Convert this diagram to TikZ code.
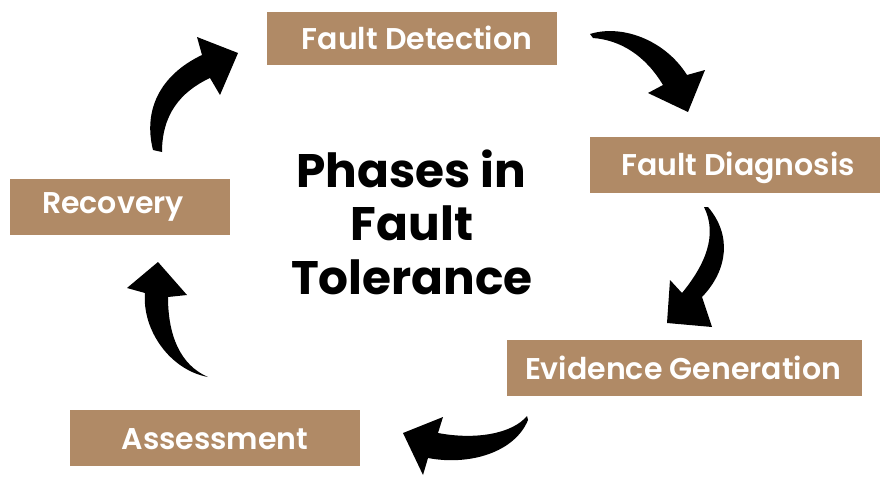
\documentclass[tikz,border=0pt]{standalone}
\usepackage{fontspec}
\setmainfont{Poppins}
\newfontfamily\popsb{Poppins}[UprightFont={* SemiBold},BoldFont={* Bold}]
\definecolor{boxtan}{HTML}{B08A66}
\begin{document}
\begin{tikzpicture}[x=1pt,y=-1pt,
  phasebox/.style={fill=boxtan,draw=none},
  phasetext/.style={text=white,font=\popsb\fontsize{30}{34}\selectfont,inner sep=0pt,anchor=base},
  titletext/.style={text=black,font=\popsb\bfseries\fontsize{47}{54}\selectfont,inner sep=0pt,anchor=base},
  bigarrow/.style={fill=black,draw=none}]
\useasboundingbox (0,0) rectangle (892,482);
\fill[white] (0,0) rectangle (892,482);
% boxes
\fill[phasebox] (267,12) rectangle (557,65);
\fill[phasebox] (590,137) rectangle (880,193);
\fill[phasebox] (507,340) rectangle (862,396);
\fill[phasebox] (70,410) rectangle (360,466);
\fill[phasebox] (10,179) rectangle (230,235);
% labels
\node[phasetext] (fd) at (417,49) {Fault Detection};
\node[phasetext] (fg) at (738,175) {Fault Diagnosis};
\node[phasetext] (eg) at (683,379) {Evidence Generation};
\node[phasetext] (as) at (215,449) {Assessment};
\node[phasetext] (rc) at (113,213) {Recovery};
% title
\node[titletext] (t1) at (411,187) {Phases in};
\node[titletext] (t2) at (412,240) {Fault};
\node[titletext] (t3) at (412,294) {Tolerance};
% arrows
\fill[bigarrow] (590,34) .. controls (622,24) and (665,40) .. (687,75) -- (705,70) -- (688,112) -- (648,93) -- (663,85) .. controls (645,55) and (620,40) .. (593,38) -- cycle;
\fill[bigarrow] (708,207) .. controls (732,235) and (728,270) .. (702,297) -- (712,327) -- (667,323) -- (670,280) -- (682,293) .. controls (705,265) and (718,235) .. (704,207) -- cycle;
\fill[bigarrow] (527,416) .. controls (512,434) and (475,440) .. (438,433) -- (443,417) -- (403,433) -- (423,475) -- (428,458) .. controls (470,466) and (515,452) .. (528,420) -- cycle;
\fill[bigarrow] (158,262) -- (187,295) -- (168,297) .. controls (168,335) and (180,365) .. (208,377) .. controls (170,370) and (142,330) .. (145,293) -- (127,288) -- cycle;
\fill[bigarrow] (153,150) .. controls (143,110) and (160,75) .. (202,55) -- (197,37) -- (238,53) -- (220,95) -- (210,78) .. controls (180,92) and (162,115) .. (162,152) -- cycle;
\end{tikzpicture}
\end{document}
